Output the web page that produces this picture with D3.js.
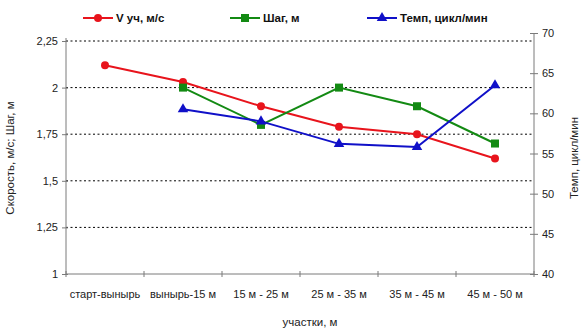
<!DOCTYPE html>
<html>
<head>
<meta charset="utf-8">
<script src="https://cdn.jsdelivr.net/npm/d3@7"></script>
<style>
  body { margin: 0; background: #fff; }
  svg { display: block; font-family: "Liberation Sans", Arial, sans-serif; }
</style>
</head>
<body>
<svg id="chart" width="585" height="331"></svg>
<script>
// Участки дистанции
const segments = ["старт-вынырь", "вынырь-15 м", "15 м - 25 м", "25 м - 35 м", "35 м - 45 м", "45 м - 50  м"];
// Скорость на участке, м/с
const speed = [2.12, 2.03, 1.90, 1.79, 1.75, 1.62];
// Шаг, м (на первом участке нет данных)
const stroke = [null, 2.00, 1.80, 2.00, 1.90, 1.70];
// Темп, цикл/мин (на первом участке нет данных)
const tempo = [null, 60.5, 59.0, 56.2, 55.8, 63.5];

const leftTicks = [1, 1.25, 1.5, 1.75, 2, 2.25];
const rightTicks = [40, 45, 50, 55, 60, 65, 70];

const svg = d3.select("#chart");
const plotLeft = 66, plotRight = 534, plotTop = 41, plotBottom = 274;

const x = d3.scaleBand().domain(segments).range([plotLeft, plotRight]);
const yL = d3.scaleLinear().domain([1, 2.25]).range([plotBottom, plotTop]);
const yR = d3.scaleLinear().domain([40, 70]).range([plotBottom, 33]);
const fmt = d => String(d).replace(".", ",");

// Пунктирная сетка
svg.append("g").selectAll("line")
  .data(leftTicks.filter(t => t > 1))
  .join("line")
  .attr("x1", plotLeft).attr("x2", plotRight)
  .attr("y1", d => yL(d)).attr("y2", d => yL(d))
  .attr("stroke", "#000").attr("stroke-width", 1)
  .attr("stroke-dasharray", "2,2.5");

const axisColor = "#7a7a7a";

// Левая ось
const gL = svg.append("g").attr("transform", `translate(${plotLeft},0)`)
  .call(d3.axisLeft(yL).tickValues(leftTicks).tickFormat(fmt).tickSize(4).tickPadding(4));
gL.select(".domain").attr("stroke", axisColor).attr("d", `M0,${plotTop - 3}V${plotBottom}`);
gL.selectAll(".tick line").attr("stroke", axisColor).attr("x2", -4).attr("x1", 2);
gL.selectAll("text").attr("font-size", 11).attr("fill", "#222");

// Правая ось
const gR = svg.append("g").attr("transform", `translate(${plotRight},0)`)
  .call(d3.axisRight(yR).tickValues(rightTicks).tickSize(4).tickPadding(4));
gR.select(".domain").attr("stroke", axisColor).attr("d", `M0,${yR(70)}V${plotBottom}`);
gR.selectAll(".tick line").attr("stroke", axisColor).attr("x1", -4).attr("x2", 4);
gR.selectAll("text").attr("font-size", 11).attr("fill", "#222");

// Ось категорий
const gX = svg.append("g").attr("transform", `translate(0,${plotBottom})`)
  .call(d3.axisBottom(x).tickSize(0).tickPadding(16));
gX.select(".domain").attr("stroke", axisColor).attr("d", `M${plotLeft},0H${plotRight}`);
gX.selectAll("text").attr("font-size", 11).attr("fill", "#222");
svg.append("g").selectAll("line")
  .data(d3.range(segments.length + 1))
  .join("line")
  .attr("x1", i => plotLeft + i * x.step()).attr("x2", i => plotLeft + i * x.step())
  .attr("y1", plotBottom - 3).attr("y2", plotBottom + 3)
  .attr("stroke", axisColor);

// Подписи осей
svg.append("text").attr("transform", `translate(14,158) rotate(-90)`)
  .attr("text-anchor", "middle").attr("font-size", 11.5).attr("fill", "#222")
  .text("Скорость, м/с; Шаг, м");
svg.append("text").attr("transform", `translate(578,158) rotate(-90)`)
  .attr("text-anchor", "middle").attr("font-size", 11.5).attr("fill", "#222")
  .text("Темп, цикл/мин");
svg.append("text").attr("x", 310).attr("y", 326)
  .attr("text-anchor", "middle").attr("font-size", 11.5).attr("fill", "#222")
  .text("участки, м");

const cx = d => x(d) + x.bandwidth() / 2;

const series = [
  { name: "V уч, м/с", values: speed, y: yL, color: "#e8141c", marker: "circle", lx: 83 },
  { name: "Шаг, м", values: stroke, y: yL, color: "#138a13", marker: "square", lx: 230 },
  { name: "Темп, цикл/мин", values: tempo, y: yR, color: "#1010c8", marker: "triangle", lx: 367 }
];

function drawMarker(g, type, color) {
  if (type === "circle") g.append("circle").attr("r", 4).attr("fill", color);
  else if (type === "square") g.append("rect").attr("x", -4).attr("y", -4).attr("width", 8).attr("height", 8).attr("fill", color);
  else g.append("path").attr("d", d3.symbol(d3.symbolTriangle, 48)()).attr("fill", color);
}

series.forEach(s => {
  const pts = segments.map((c, i) => ({ c, v: s.values[i] })).filter(p => p.v != null);
  svg.append("path").datum(pts)
    .attr("fill", "none").attr("stroke", s.color).attr("stroke-width", 2)
    .attr("d", d3.line().x(p => cx(p.c)).y(p => s.y(p.v)));
  pts.forEach(p => {
    const g = svg.append("g").attr("transform", `translate(${cx(p.c)},${s.y(p.v)})`);
    drawMarker(g, s.marker, s.color);
  });

  // Легенда
  const lg = svg.append("g").attr("transform", `translate(${s.lx},18)`);
  lg.append("line").attr("x1", 0).attr("x2", 30).attr("stroke", s.color).attr("stroke-width", 2);
  drawMarker(lg.append("g").attr("transform", "translate(15,0)"), s.marker, s.color);
  lg.append("text").attr("x", 33).attr("y", 4).attr("font-size", 11.5).attr("font-weight", "bold")
    .attr("fill", "#111").text(s.name);
});
</script>
</body>
</html>
